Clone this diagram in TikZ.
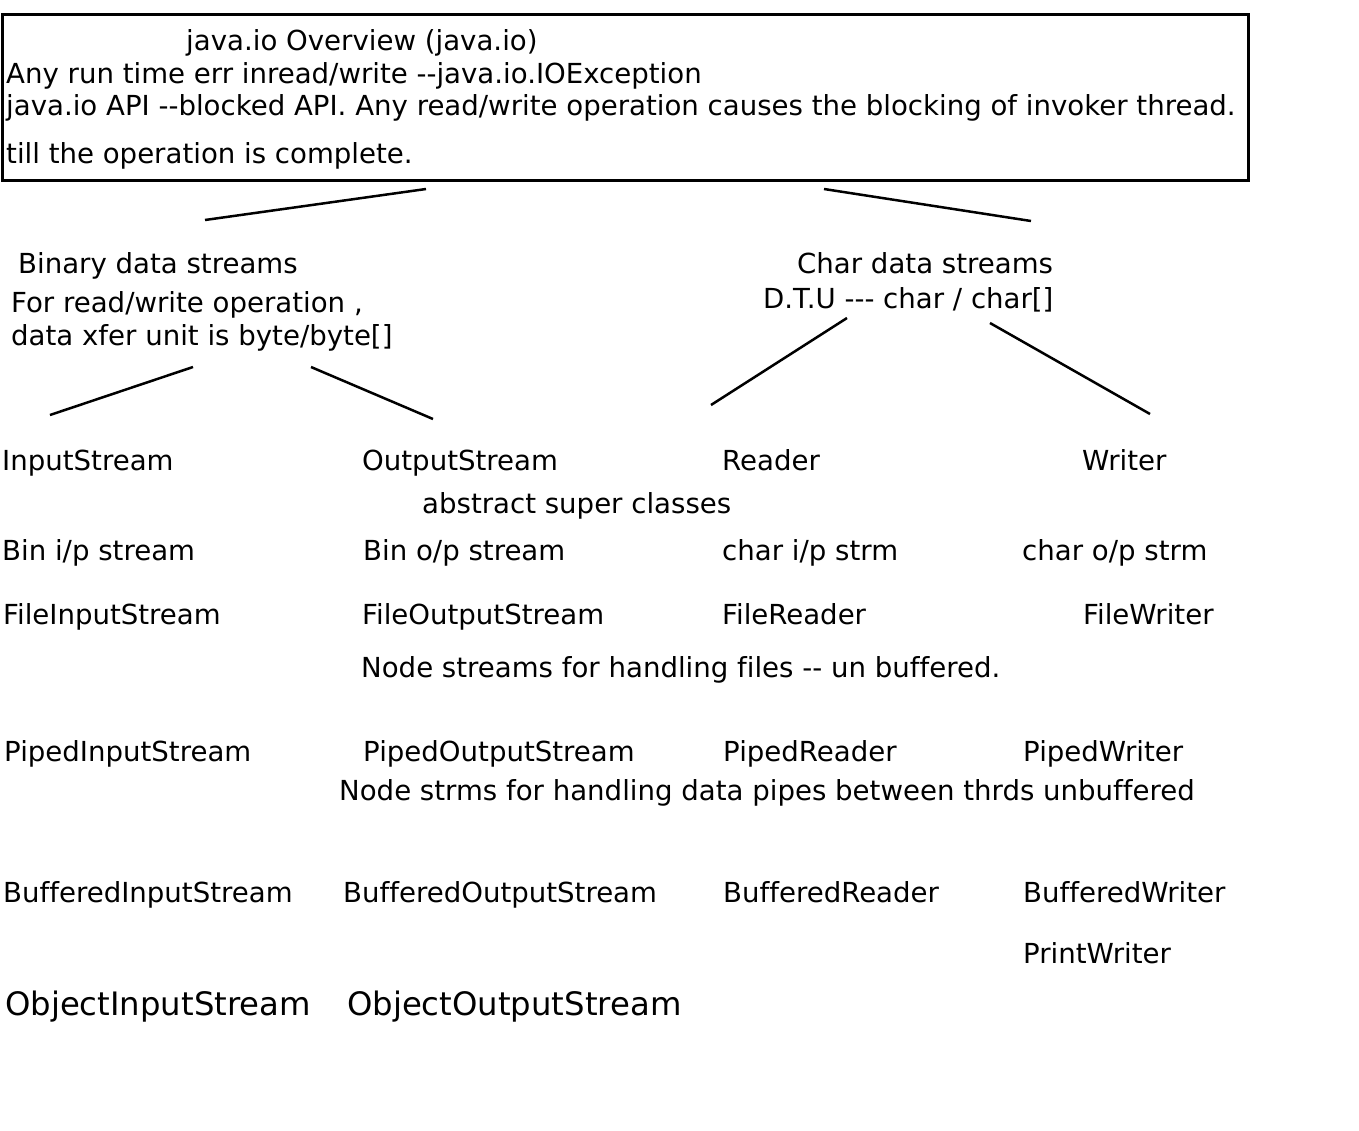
\documentclass[tikz,border=0pt]{standalone}
\usepackage{fontspec}
\setmainfont{DejaVu Sans}[Ligatures={TeXOff,CommonOff}]
\usetikzlibrary{positioning}

\begin{document}
\begin{tikzpicture}[
    x=1pt, y=-1pt,
    txt/.style={anchor=base west, inner sep=0pt, font=\fontsize{27.6}{32}\selectfont},
    big/.style={anchor=base west, inner sep=0pt, font=\fontsize{32.3}{38}\selectfont},
    box/.style={draw, line width=3pt, minimum width=1246pt, minimum height=166pt, inner sep=0pt},
    link/.style={line width=2.5pt}
]
    \useasboundingbox (0,0) rectangle (1359,1130);

    % Overview box
    \node[box] (overview) at (625,97) {};
    \node[txt] (title) at (186,50) {java.io Overview (java.io)};
    \node[txt] (ioerr) at (6,83) {Any run time err inread/write --java.io.IOException};
    \node[txt] (blocked) at (6,115) {java.io API --blocked API. Any read/write operation causes the blocking of invoker thread.};
    \node[txt] (complete) at (6,163) {till the operation is complete.};

    % Binary / char branches
    \node[txt] (binary) at (18,273) {Binary data streams};
    \node[txt] (binunit) at (11,312) {For read/write operation ,};
    \node[txt] (binunit2) at (11,345) {data xfer unit is byte/byte[]};
    \node[txt] (chars) at (797,273) {Char data streams};
    \node[txt] (dtu) at (763,308) {D.T.U --- char / char[]};

    % Abstract super classes
    \node[txt] (instream) at (2,470) {InputStream};
    \node[txt] (outstream) at (362,470) {OutputStream};
    \node[txt] (reader) at (722,470) {Reader};
    \node[txt] (writer) at (1082,470) {Writer};
    \node[txt] (abstract) at (422,513) {abstract super classes};

    \node[txt] (binin) at (2,560) {Bin i/p stream};
    \node[txt] (binout) at (363,560) {Bin o/p stream};
    \node[txt] (charin) at (722,560) {char i/p strm};
    \node[txt] (charout) at (1022,560) {char o/p strm};

    % File streams
    \node[txt] (filein) at (3,624) {FileInputStream};
    \node[txt] (fileout) at (362,624) {FileOutputStream};
    \node[txt] (filereader) at (722,624) {FileReader};
    \node[txt] (filewriter) at (1083,624) {FileWriter};
    \node[txt] (filenote) at (361,677) {Node streams for handling files -- un buffered.};

    % Piped streams
    \node[txt] (pipedin) at (4,761) {PipedInputStream};
    \node[txt] (pipedout) at (363,761) {PipedOutputStream};
    \node[txt] (pipedreader) at (723,761) {PipedReader};
    \node[txt] (pipedwriter) at (1023,761) {PipedWriter};
    \node[txt] (pipednote) at (339,800) {Node strms for handling data pipes between thrds unbuffered};

    % Buffered streams
    \node[txt] (bufin) at (3,902) {BufferedInputStream};
    \node[txt] (bufout) at (343,902) {BufferedOutputStream};
    \node[txt] (bufreader) at (723,902) {BufferedReader};
    \node[txt] (bufwriter) at (1023,902) {BufferedWriter};
    \node[txt] (printwriter) at (1023,963) {PrintWriter};

    % Object streams
    \node[big] (objin) at (5,1015) {ObjectInputStream};
    \node[big] (objout) at (347,1015) {ObjectOutputStream};

    % Line ends
    \coordinate (topl1) at (426,189);
    \coordinate (topl2) at (205,220);
    \coordinate (topr1) at (824,189);
    \coordinate (topr2) at (1031,221);
    \coordinate (binl1) at (193,367);
    \coordinate (binl2) at (50,415);
    \coordinate (binr1) at (311,367);
    \coordinate (binr2) at (433,419);
    \coordinate (chl1) at (847,318);
    \coordinate (chl2) at (711,405);
    \coordinate (chr1) at (990,323);
    \coordinate (chr2) at (1150,414);

    % Lines
    \draw[link] (topl1) -- (topl2);
    \draw[link] (topr1) -- (topr2);
    \draw[link] (binl1) -- (binl2);
    \draw[link] (binr1) -- (binr2);
    \draw[link] (chl1) -- (chl2);
    \draw[link] (chr1) -- (chr2);

\end{tikzpicture}
\end{document}
